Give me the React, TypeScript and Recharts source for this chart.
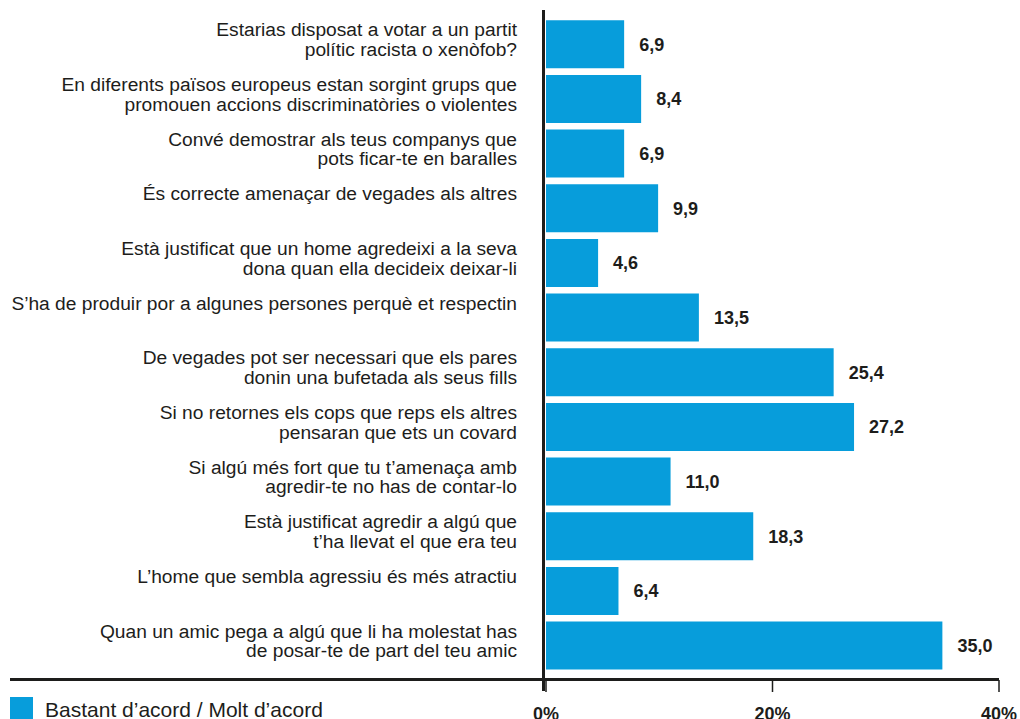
import React from "react";
import { Bar, BarChart, LabelList, XAxis, YAxis } from "recharts";

const categories = [
  "Estarias disposat a votar a un partit\npolític racista o xenòfob?",
  "En diferents països europeus estan sorgint grups que\npromouen accions discriminatòries o violentes",
  "Convé demostrar als teus companys que\npots ficar-te en baralles",
  "És correcte amenaçar de vegades als altres",
  "Està justificat que un home agredeixi a la seva\ndona quan ella decideix deixar-li",
  "S'ha de produir por a algunes persones perquè et respectin",
  "De vegades pot ser necessari que els pares\ndonin una bufetada als seus fills",
  "Si no retornes els cops que reps els altres\npensaran que ets un covard",
  "Si algú més fort que tu t'amenaça amb\nagredir-te no has de contar-lo",
  "Està justificat agredir a algú que\nt'ha llevat el que era teu",
  "L'home que sembla agressiu és més atractiu",
  "Quan un amic pega a algú que li ha molestat has\nde posar-te de part del teu amic",
];
const values = [6.9, 8.4, 6.9, 9.9, 4.6, 13.5, 25.4, 27.2, 11.0, 18.3, 6.4, 35.0];
const xTicks = [0, 20, 40];
const seriesName = "Bastant d’acord / Molt d’acord";

const data = categories.map((c, i) => ({ label: c, value: values[i] }));

const FONT = "'Liberation Sans', Arial, Helvetica, sans-serif";
const INK = "#1d1d1b";
const BLUE = "#079ddb";

function CategoryTick(props: any) {
  const { x, y, payload } = props;
  const lines = String(payload.value).split("\n");
  return (
    <text
      x={x - 21}
      y={y - 8}
      textAnchor="end"
      fill={INK}
      fontSize={19.2}
      fontFamily={FONT}
    >
      {lines.map((l: string, i: number) => (
        <tspan key={i} x={x - 21} dy={i === 0 ? 0 : 19.5}>
          {l.replace(/'/g, "’")}
        </tspan>
      ))}
    </text>
  );
}

function PercentTick(props: any) {
  const { x, y, payload } = props;
  return (
    <g>
      <line x1={x} x2={x} y1={y - 1} y2={y + 11} stroke={INK} strokeWidth={1.5} />
      <text
        x={x}
        y={y + 39}
        textAnchor="middle"
        fill={INK}
        fontSize={18}
        fontWeight="bold"
        fontFamily={FONT}
      >
        {payload.value}%
      </text>
    </g>
  );
}

export default function App() {
  return (
    <div
      style={{
        position: "absolute",
        left: 0,
        top: 0,
        width: 1020,
        height: 719,
        background: "#fff",
        overflow: "hidden",
      }}
    >
      <BarChart
        width={1020}
        height={719}
        data={data}
        layout="vertical"
        margin={{ top: 17, right: 21, left: 0, bottom: 6 }}
        barCategoryGap="6%"
      >
        <XAxis
          type="number"
          domain={[0, 40]}
          ticks={xTicks}
          axisLine={false}
          tickLine={false}
          height={40}
          tick={<PercentTick />}
          interval={0}
        />
        <YAxis
          type="category"
          dataKey="label"
          width={546}
          axisLine={false}
          tickLine={false}
          tick={<CategoryTick />}
          interval={0}
        />
        <Bar dataKey="value" name={seriesName} fill={BLUE} isAnimationActive={false}>
          <LabelList
            dataKey="value"
            position="right"
            offset={15}
            formatter={(v: any) => Number(v).toFixed(1).replace(".", ",")}
            style={{ fill: INK, fontSize: 18, fontWeight: "bold", fontFamily: FONT }}
          />
        </Bar>
      </BarChart>
      {/* axis lines, extended past the plot area as in the original */}
      <div
        style={{
          position: "absolute",
          left: 10,
          top: 678,
          width: 989,
          height: 3,
          background: INK,
        }}
      />
      <div
        style={{
          position: "absolute",
          left: 542,
          top: 10,
          width: 3,
          height: 681,
          background: INK,
        }}
      />
      {/* legend */}
      <div
        style={{
          position: "absolute",
          left: 10,
          top: 697,
          width: 23,
          height: 23,
          background: BLUE,
        }}
      />
      <div
        style={{
          position: "absolute",
          left: 45,
          top: 698,
          fontFamily: FONT,
          fontSize: 21,
          lineHeight: "normal",
          color: INK,
          whiteSpace: "nowrap",
        }}
      >
        {seriesName}
      </div>
    </div>
  );
}
